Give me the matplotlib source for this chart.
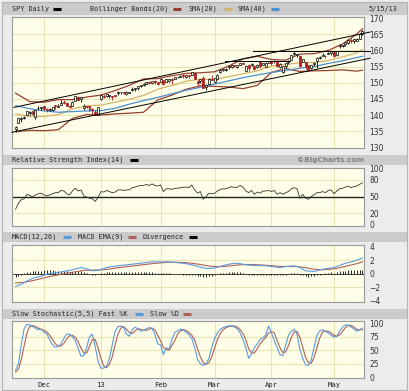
import matplotlib
matplotlib.use("Agg")
import matplotlib.pyplot as plt
from matplotlib.patches import Rectangle
from matplotlib.lines import Line2D

W, H = 410, 391

# trading-day index 0 = Nov 16 2012 ... 122 = May 15 2013
month_idx = [10, 30, 51, 70, 90, 112]
month_lbl = ["Dec", "13", "Feb", "Mar", "Apr", "May"]

opens = [135.7, 137.6, 138.9, 139.2, 140.0, 140.7, 141.2, 139.5, 142.1, 142.3,
         142.8, 142.0, 141.6, 141.6, 142.9, 142.5, 143.1, 144.2, 143.7, 142.9,
         142.8, 144.4, 145.7, 144.9, 142.3, 142.7, 142.7, 141.8, 141.0, 139.9,
         145.1, 145.9, 145.9, 145.9, 145.7, 146.0, 146.8, 147.1, 147.1, 146.4,
         146.9, 147.9, 148.0, 148.4, 148.9, 149.3, 149.7, 150.3, 149.8, 150.6,
         150.1, 150.3, 150.8, 150.3, 150.5, 151.2, 151.3, 151.7, 151.8, 152.3,
         151.8, 152.4, 152.3, 153.1, 150.6, 150.5, 151.6, 148.6, 149.5, 151.3,
         150.3, 151.1, 153.3, 154.1, 154.1, 154.9, 154.8, 155.4, 155.0, 155.6,
         156.2, 153.8, 155.4, 155.6, 155.2, 154.8, 156.4, 155.6, 154.8, 156.1,
         156.6, 156.6, 156.8, 154.8, 153.4, 155.3, 156.3, 157.2, 158.8, 158.7,
         158.3, 156.4, 156.4, 155.5, 154.5, 155.8, 156.8, 157.6, 158.3, 158.3,
         158.9, 159.1, 159.5, 158.5, 161.4, 161.4, 162.0, 162.3, 163.3, 162.9,
         163.0, 163.6, 165.2]
highs = [136.5, 139.2, 139.3, 139.6, 141.4, 141.2, 141.7, 141.7, 142.8, 142.6,
         142.9, 142.2, 142.3, 142.4, 143.1, 143.3, 144.8, 144.7, 144.0, 143.0,
         144.3, 145.9, 146.0, 145.5, 143.3, 142.9, 142.8, 142.3, 141.5, 142.6,
         146.2, 146.4, 146.6, 146.1, 145.8, 146.3, 147.4, 147.2, 147.3, 147.4,
         147.3, 148.6, 148.3, 149.1, 149.4, 150.0, 150.3, 150.5, 150.7, 151.0,
         150.3, 151.4, 151.0, 151.3, 151.3, 151.4, 151.9, 151.9, 152.3, 152.7,
         152.5, 152.5, 153.3, 153.2, 151.0, 151.2, 152.1, 149.6, 151.5, 152.3,
         151.6, 152.6, 154.2, 154.3, 154.5, 155.4, 155.5, 155.5, 155.5, 156.2,
         156.3, 155.5, 155.7, 156.2, 155.4, 155.7, 156.8, 156.2, 156.3, 156.8,
         156.8, 157.2, 156.9, 156.1, 155.3, 156.2, 157.1, 158.7, 159.7, 158.9,
         158.5, 157.4, 156.4, 155.6, 155.6, 156.5, 157.9, 158.4, 159.3, 158.5,
         159.6, 159.7, 159.7, 159.9, 161.9, 161.8, 162.7, 163.4, 163.9, 163.4,
         163.8, 165.3, 166.3]
lows = [134.7, 137.5, 137.8, 138.8, 139.9, 140.2, 140.2, 138.9, 141.6, 141.7,
        141.7, 141.0, 141.2, 141.4, 142.0, 142.4, 143.0, 143.4, 142.7, 142.2,
        142.7, 144.3, 144.7, 144.2, 141.5, 142.3, 141.3, 139.9, 140.0, 139.9,
        144.7, 145.3, 145.7, 145.4, 144.8, 145.5, 146.2, 146.6, 146.6, 146.2,
        146.7, 147.5, 147.4, 147.7, 148.8, 149.0, 149.5, 149.7, 149.7, 149.6,
        149.4, 150.3, 149.4, 150.1, 150.3, 149.7, 151.2, 151.4, 151.8, 151.6,
        151.6, 151.5, 152.3, 151.3, 149.0, 150.0, 148.3, 147.9, 149.4, 150.9,
        149.9, 150.8, 153.1, 153.7, 153.8, 154.3, 154.5, 154.8, 154.6, 155.5,
        155.7, 153.7, 153.8, 155.1, 153.9, 154.7, 154.6, 155.4, 154.8, 156.0,
        155.4, 156.0, 155.0, 154.6, 153.0, 154.7, 155.8, 157.0, 158.5, 157.9,
        155.0, 156.3, 154.3, 153.6, 154.3, 155.1, 154.6, 157.5, 158.2, 157.7,
        158.9, 158.6, 158.0, 158.4, 160.8, 161.1, 161.5, 162.1, 162.4, 162.3,
        162.8, 163.5, 164.8]
closes = [136.4, 139.1, 139.2, 139.5, 141.4, 141.1, 140.3, 141.6, 142.2, 142.4,
          141.8, 141.5, 141.8, 142.4, 142.8, 142.9, 143.8, 143.9, 142.9, 142.5,
          144.2, 145.8, 144.7, 145.5, 142.8, 142.4, 141.8, 141.6, 140.0, 142.4,
          146.1, 145.7, 146.4, 146.0, 145.6, 145.9, 147.1, 147.1, 147.0, 147.1,
          147.1, 148.0, 148.3, 149.1, 149.4, 149.4, 150.3, 150.0, 150.6, 150.1,
          149.7, 151.2, 149.5, 151.1, 151.2, 151.0, 151.8, 151.8, 152.0, 152.2,
          152.3, 152.1, 153.3, 151.3, 149.8, 151.1, 148.3, 149.3, 151.1, 151.0,
          151.4, 152.4, 153.9, 154.1, 154.3, 154.9, 155.5, 155.2, 155.4, 156.2,
          155.8, 155.1, 154.7, 155.9, 154.2, 155.6, 155.2, 156.2, 156.2, 156.7,
          156.1, 156.8, 155.2, 155.9, 155.2, 156.2, 156.8, 158.7, 159.2, 158.8,
          155.1, 157.4, 155.1, 154.1, 155.5, 156.2, 157.8, 157.9, 158.5, 158.2,
          159.3, 159.7, 158.3, 159.8, 161.4, 161.8, 162.6, 163.3, 162.9, 163.4,
          163.5, 165.2, 166.1]

ma_idx = [0, 5, 10, 15, 20, 25, 30, 35, 40, 45, 50, 55, 60, 65, 70, 75, 80,
          85, 90, 95, 100, 105, 110, 115, 120, 122]
sma20 = [140.4, 139.6, 139.6, 140.2, 141.9, 142.9, 143.1, 144.0, 144.9, 146.1,
         148.0, 149.2, 150.5, 151.1, 151.1, 151.9, 152.8, 153.7, 155.2, 155.7,
         156.2, 156.3, 156.9, 158.0, 159.3, 160.3]
sma40 = [142.9, 142.0, 141.3, 140.9, 141.1, 141.3, 141.4, 142.1, 143.4, 144.5,
         145.5, 146.6, 147.7, 148.6, 149.6, 150.6, 151.6, 152.4, 153.2, 153.8,
         154.5, 155.0, 156.0, 156.8, 157.8, 158.2]
bb_upper = [146.8, 144.2, 144.0, 144.8, 144.8, 145.6, 146.2, 147.6, 149.2, 151.2,
            151.3, 152.2, 152.9, 153.1, 153.4, 155.2, 157.4, 158.2, 157.2, 157.0,
            158.9, 159.0, 160.0, 162.0, 165.1, 166.7]
bb_lower = [134.9, 135.3, 135.2, 135.5, 139.0, 140.2, 140.0, 140.4, 140.6, 140.9,
            144.7, 146.2, 148.0, 149.1, 148.9, 148.7, 148.2, 149.2, 153.2, 154.4,
            153.5, 153.7, 153.8, 154.0, 153.6, 153.9]

rsi = [27, 38, 44, 46, 54, 52, 49, 53, 55, 56, 53, 51, 53, 55, 57, 57, 61, 60,
       55, 53, 60, 65, 60, 62, 51, 49, 47, 46, 41, 48, 59, 58, 61, 59, 57, 58,
       62, 62, 61, 62, 62, 66, 67, 69, 70, 70, 72, 70, 73, 70, 69, 71, 59, 64,
       64, 63, 65, 65, 66, 67, 67, 66, 71, 62, 56, 59, 45, 50, 56, 55, 56, 60,
       63, 64, 64, 66, 68, 66, 67, 70, 67, 60, 57, 61, 54, 58, 56, 60, 60, 61,
       59, 61, 54, 57, 54, 57, 59, 64, 66, 64, 47, 54, 47, 45, 50, 53, 57, 57,
       59, 57, 61, 62, 55, 60, 64, 65, 67, 69, 66, 68, 69, 72, 75]

macd_idx = [0, 2, 4, 6, 9, 11, 13, 16, 18, 20, 23, 25, 27, 30, 32, 34, 37, 39,
            41, 44, 46, 48, 51, 53, 55, 58, 60, 62, 65, 67, 70, 72, 74, 77, 79,
            81, 84, 86, 88, 91, 93, 95, 98, 100, 102, 105, 107, 109, 112, 114,
            116, 119, 122]
macd = [-1.85, -1.55, -1.05, -0.65, -0.35, -0.05, 0.1, 0.27, 0.44, 0.6, 0.93,
        0.74, 0.44, 0.62, 0.93, 1.08, 1.23, 1.32, 1.42, 1.57, 1.67, 1.76, 1.76,
        1.76, 1.72, 1.6, 1.5, 1.32, 1.0, 0.78, 0.85, 1.1, 1.32, 1.57, 1.5, 1.32,
        1.23, 1.23, 1.18, 1.03, 0.93, 1.08, 1.18, 0.93, 0.44, 0.34, 0.59, 0.74,
        0.95, 1.23, 1.57, 1.85, 2.35]
ema_idx = [0, 3, 6, 9, 12, 15, 18, 21, 24, 27, 30, 33, 36, 39, 42, 45, 48, 51,
           54, 57, 60, 63, 66, 69, 72, 75, 78, 81, 84, 87, 90, 93, 96, 99, 102,
           105, 108, 111, 114, 117, 120, 122]
ema = [-1.35, -1.25, -1.0, -0.7, -0.4, -0.15, 0.1, 0.3, 0.5, 0.55, 0.58, 0.7,
       0.9, 1.05, 1.2, 1.35, 1.5, 1.62, 1.7, 1.7, 1.65, 1.5, 1.3, 1.1, 1.05,
       1.15, 1.3, 1.38, 1.35, 1.3, 1.2, 1.1, 1.07, 1.08, 0.9, 0.68, 0.6, 0.68,
       0.9, 1.2, 1.5, 1.75]
diverg = [-0.45, -0.35, -0.2, 0.1, 0.2, 0.3, 0.35, 0.4, 0.45, 0.45, 0.5, 0.5,
          0.5, 0.5, 0.45, 0.4, 0.4, 0.4, 0.35, 0.3, 0.3, 0.45, 0.45, 0.4, 0.2,
          0.1, 0.0, -0.1, -0.2, -0.05, 0.1, 0.15, 0.2, 0.2, 0.2, 0.2, 0.25, 0.25,
          0.2, 0.2, 0.2, 0.2, 0.2, 0.2, 0.2, 0.2, 0.2, 0.2, 0.2, 0.15, 0.1, 0.1,
          0.05, 0.05, 0.05, 0.0, 0.0, -0.05, -0.05, -0.1, -0.1, -0.1, -0.1, -0.2,
          -0.3, -0.3, -0.45, -0.45, -0.35, -0.3, -0.2, -0.05, 0.05, 0.1, 0.15,
          0.2, 0.25, 0.2, 0.2, 0.2, 0.15, 0.0, -0.1, -0.1, -0.15, -0.15, -0.15,
          -0.1, -0.1, -0.1, -0.15, -0.15, -0.2, -0.2, -0.2, -0.1, 0.0, 0.1, 0.15,
          0.1, -0.15, -0.2, -0.35, -0.4, -0.35, -0.3, -0.15, -0.1, -0.05, 0.05,
          0.15, 0.2, 0.15, 0.25, 0.35, 0.4, 0.45, 0.5, 0.5, 0.5, 0.5, 0.55, 0.55]

fast_k = [13, 25, 60, 90, 98, 97, 94, 91, 88, 89, 84, 80, 70, 60, 56, 57, 62,
          72, 80, 80, 75, 68, 54, 39, 40, 55, 75, 80, 57, 30, 17, 17, 20, 35,
          60, 85, 94, 95, 93, 80, 76, 88, 93, 90, 85, 87, 90, 92, 91, 80, 62,
          60, 42, 55, 52, 70, 83, 86, 89, 88, 83, 79, 72, 55, 33, 25, 22, 25,
          35, 55, 72, 82, 89, 92, 94, 95, 96, 93, 90, 82, 70, 55, 35, 44, 55,
          62, 70, 73, 78, 95, 82, 68, 55, 42, 40, 60, 78, 85, 89, 80, 52, 35,
          23, 22, 33, 55, 78, 86, 88, 85, 82, 78, 75, 76, 85, 93, 97, 97, 93,
          90, 85, 88, 91]
slow_d = [10, 15, 33, 58, 82, 95, 96, 94, 91, 89, 87, 84, 78, 70, 62, 58, 58,
          63, 71, 77, 78, 74, 66, 54, 45, 45, 57, 70, 70, 55, 35, 21, 18, 24,
          38, 60, 80, 91, 94, 89, 83, 81, 86, 90, 89, 87, 87, 89, 91, 88, 78,
          68, 55, 52, 50, 59, 68, 80, 86, 88, 87, 83, 78, 69, 53, 38, 27, 24,
          27, 38, 54, 70, 81, 88, 92, 94, 95, 95, 93, 88, 81, 69, 53, 45, 45,
          53, 62, 68, 74, 82, 85, 82, 68, 55, 46, 47, 59, 74, 84, 85, 74, 56,
          37, 27, 26, 37, 55, 73, 84, 86, 85, 82, 78, 76, 79, 85, 92, 96, 96,
          93, 89, 88, 88]

# trend lines drawn on the price panel: (x0, y0, x1, y1) in day index / price
trend_lines = [(-0.6, 142.4, 124.7, 165.7),
               (-1.3, 134.7, 124.7, 157.6),
               (83.5, 159.9, 124.7, 159.9),
               (73.7, 156.8, 96.5, 156.8)]

BG = "#ececec"
STRIP = "#cbcbcb"
PANEL = "#fffee8"
GRID = "#e9e5b5"
BB_C = "#973f32"
SMA20_C = "#d6b36a"
SMA40_C = "#4a8fd2"
BLUE = "#5a9be0"
BROWN = "#b0605a"
RED = "#a81c1c"
XMIN, XMAX = -1.26, 122.56
MONO = "DejaVu Sans Mono"

fig = plt.figure(figsize=(W / 100, H / 100), dpi=100)
fig.patch.set_facecolor(BG)


def box(x0, y0, x1, y1):
    return [x0 / W, 1 - y1 / H, (x1 - x0) / W, (y1 - y0) / H]


def strip(y0, y1):
    fig.add_artist(Rectangle((3 / W, 1 - y1 / H), 404 / W, (y1 - y0) / H,
                             transform=fig.transFigure, facecolor=STRIP,
                             edgecolor="none", zorder=0))


def label(x, y, s, **kw):
    fig.text(x / W, 1 - y / H, s, fontsize=4.9, family=MONO, color="#222222",
             va="center", ha="left", **kw)


def key(x, y, color):
    fig.add_artist(Line2D([x / W, (x + 8) / W], [1 - y / H] * 2,
                          transform=fig.transFigure, color=color, lw=2.2,
                          solid_capstyle="butt"))


def panel(y0, y1, ylim, yticks, grid):
    ax = fig.add_axes(box(12, y0, 364, y1))
    ax.set_facecolor(PANEL)
    ax.set_xlim(XMIN, XMAX)
    ax.set_ylim(*ylim)
    ax.set_yticks(yticks)
    ax.yaxis.tick_right()
    ax.tick_params(axis="y", length=0, pad=4, labelsize=5.5, labelcolor="#333333")
    ax.set_xticks(month_idx)
    ax.tick_params(axis="x", length=0, labelbottom=False)
    for g in grid:
        ax.axhline(g, color=GRID, lw=0.8, zorder=0)
    for m in month_idx:
        ax.axvline(m, color=GRID, lw=0.8, zorder=0)
    for s in ax.spines.values():
        s.set_color("#9a9a9a")
        s.set_linewidth(0.8)
    return ax


# outer frame
fig.add_artist(Rectangle((2 / W, 1 / H), 405 / W, 388 / H, transform=fig.transFigure,
                         facecolor="none", edgecolor="#b4b4b4", lw=0.8))

# ---- header strips
strip(3, 15)
label(12, 9, "SPY Daily")
key(53, 9, "black")
label(90, 9, "Bollinger Bands(20)")
key(173, 9, BB_C)
label(189, 9, "SMA(20)")
key(224, 9, SMA20_C)
label(238, 9, "SMA(40)")
key(271, 9, SMA40_C)
label(369, 9, "5/15/13")

strip(155, 165)
label(12, 160, "Relative Strength Index(14)")
key(130, 160, "black")
fig.text(364 / W, 1 - 160 / H, "\u00a9BigCharts.com", fontsize=5.2, ha="right",
         va="center", color="#808080", fontweight="bold")

strip(232, 242)
label(12, 237, "MACD(12,26)")
key(63, 237, BLUE)
label(78, 237, "MACD EMA(9)")
key(128, 237, BROWN)
label(143, 237, "Divergence")
key(189, 237, "black")

strip(309, 319)
label(12, 314, "Slow Stochastic(5,5) Fast %K")
key(135, 314, BLUE)
label(150, 314, "Slow %D")
key(183, 314, BROWN)

# ---- price panel
ax = panel(16.5, 147.5, (130, 170.5), [130, 135, 140, 145, 150, 155, 160, 165, 170],
           [135, 140, 145, 150, 155, 160, 165])
ax.plot(ma_idx, bb_upper, color=BB_C, lw=0.9)
ax.plot(ma_idx, bb_lower, color=BB_C, lw=0.9)
ax.plot(ma_idx, sma20, color=SMA20_C, lw=0.9)
ax.plot(ma_idx, sma40, color=SMA40_C, lw=0.9)
for x0, y0, x1, y1 in trend_lines:
    ax.plot([x0, x1], [y0, y1], color="black", lw=0.7, clip_on=False, zorder=4)
for i, (o, h, l, c) in enumerate(zip(opens, highs, lows, closes)):
    down = c < o
    col = RED if down else "black"
    ax.vlines(i, l, h, color=col, lw=0.6, zorder=3)
    ax.bar(i, max(abs(c - o), 0.2), bottom=min(o, c), width=0.7,
           facecolor=RED if down else PANEL, edgecolor=col, lw=0.5, zorder=3)

# ---- RSI panel
ax = panel(168, 226, (-3.6, 101.8), [0, 20, 50, 80, 100], [20, 80])
ax.axhline(50, color="#222222", lw=1.0, zorder=1)
ax.plot(range(len(rsi)), rsi, color="#333333", lw=0.6)

# ---- MACD panel
ax = panel(245, 302, (-4.15, 4.25), [-4, -2, 0, 2, 4], [-2, 2])
ax.axhline(0, color="#444444", lw=0.7, zorder=1)
ax.vlines(range(len(diverg)), 0, diverg, color="black", lw=0.6, zorder=2)
ax.plot(ema_idx, ema, color=BROWN, lw=0.8)
ax.plot(macd_idx, macd, color=BLUE, lw=0.8)

# ---- stochastic panel
ax = panel(321, 378, (-1.3, 104.3), [0, 25, 50, 75, 100], [25, 50, 75])
ax.plot(range(len(slow_d)), slow_d, color=BROWN, lw=0.8)
ax.plot(range(len(fast_k)), fast_k, color=BLUE, lw=0.8)
ax.set_xticklabels(month_lbl)
ax.tick_params(axis="x", labelbottom=True, labelsize=5.2, pad=3, labelcolor="#222222")
for t in ax.get_xticklabels():
    t.set_family(MONO)

fig.savefig("out.png", dpi=100, facecolor=fig.get_facecolor())
